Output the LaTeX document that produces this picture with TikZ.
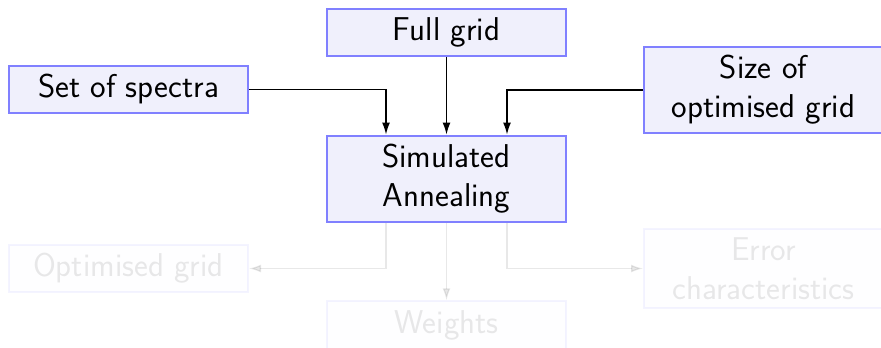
\documentclass[tikz,border=0pt]{standalone}
\usepackage{fontspec}
\usetikzlibrary{arrows.meta}
\definecolor{boxline}{RGB}{128,128,255}
\definecolor{boxfill}{RGB}{240,240,252}
\begin{document}
\begin{tikzpicture}[x=1pt,y=-1pt,
  stagebox/.style={draw=boxline, fill=boxfill, line width=2pt,
    minimum width=239pt, inner xsep=6pt, inner ysep=8.9pt, align=center,
    font=\sffamily\fontsize{33}{39}\selectfont},
  faded/.style={opacity=0.09},
  flow/.style={line width=1.3pt, -{Latex[length=12pt,width=8pt]}}]
\useasboundingbox (0,0) rectangle (881,348);

% inputs
\node[stagebox] (full) at (446.5,32.5) {Full grid};
\node[stagebox] (spectra) at (128.5,89.5) {Set of spectra};
\node[stagebox] (size) at (763.5,90) {Size of\\optimised grid};

% the optimiser
\node[stagebox] (sa) at (446.5,179) {Simulated\\Annealing};

% outputs, greyed out
\node[stagebox, faded] (optgrid) at (128.5,268.5) {Optimised grid};
\node[stagebox, faded] (weights) at (446.5,325) {Weights};
\node[stagebox, faded] (error) at (763.5,268.5) {Error\\characteristics};

% connectors into the optimiser
\draw[flow] (spectra.east) -| ([xshift=-60.5pt]sa.north);
\draw[flow] (full.south) -- (sa.north);
\draw[flow] (size.west) -| ([xshift=60.5pt]sa.north);

% connectors out of the optimiser
\draw[flow, faded] ([xshift=-60.5pt]sa.south) |- (optgrid.east);
\draw[flow, faded] (sa.south) -- (weights.north);
\draw[flow, faded] ([xshift=60.5pt]sa.south) |- (error.west);
\end{tikzpicture}
\end{document}
